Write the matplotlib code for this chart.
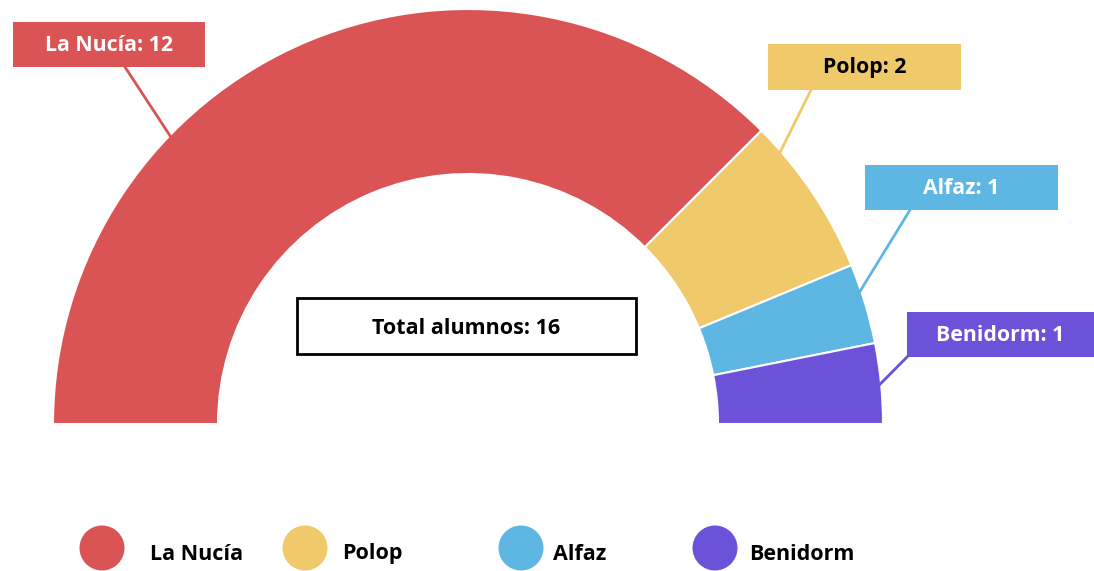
import matplotlib
matplotlib.use("Agg")
import matplotlib.pyplot as plt
from matplotlib.patches import Wedge, Rectangle, Circle
import numpy as np

plt.rcParams['font.family'] = ['Open Sans', 'DejaVu Sans']

# datos
municipios = ['La Nucía', 'Polop', 'Alfaz', 'Benidorm']
alumnos = [12, 2, 1, 1]
colores = ['#DB5455', '#F0C96A', '#5EB7E3', '#6C52D9']
color_texto = ['white', 'black', 'white', 'white']
total = sum(alumnos)

W, H = 1094, 571
fig = plt.figure(figsize=(W / 100, H / 100), dpi=100)
ax = fig.add_axes([0, 0, 1, 1])
ax.set_xlim(0, W)
ax.set_ylim(0, H)
ax.axis('off')

def py(y):  # coordenada vertical desde arriba
    return H - y

# semi-donut
cx, cy = 468, py(424)
R, r = 415, 250
angulos = 180 - np.cumsum([0] + alumnos) / total * 180
for i in range(len(alumnos)):
    ax.add_patch(Wedge((cx, cy), R, angulos[i + 1], angulos[i], width=R - r,
                       facecolor=colores[i], edgecolor='white', linewidth=1.5))

# etiquetas con linea guia: caja (x0, y0, ancho, alto), angulo de anclaje, extremo de la linea en la caja
cajas = [(13, 22, 192, 45), (768, 44, 193, 46), (865, 165, 193, 45), (907, 312, 187, 45)]
anclas = [136, 41, 18.6, 5.4]
salidas = [(125, 67), (811, 90), (910, 210), (907, 357)]
for i, m in enumerate(municipios):
    x0, y0, w, h = cajas[i]
    a = np.radians(anclas[i])
    ex, ey = cx + (R - 2) * np.cos(a), cy + (R - 2) * np.sin(a)
    sx, sy = salidas[i]
    ax.plot([sx, ex], [py(sy), ey], color=colores[i], lw=2, zorder=1)
    ax.add_patch(Rectangle((x0, py(y0 + h)), w, h, facecolor=colores[i], edgecolor='none', zorder=3))
    ax.text(x0 + w / 2, py(y0 + h / 2 + 1), f'{m}: {alumnos[i]}', ha='center', va='center',
            fontsize=15.3, fontweight='bold', color=color_texto[i], zorder=4)

# total
ax.add_patch(Rectangle((297, py(354)), 339, 56, facecolor='white', edgecolor='black', lw=2, zorder=3))
ax.text(466, py(328), f'Total alumnos: {total}', ha='center', va='center',
        fontsize=15.5, fontweight='bold', color='black', zorder=4)

# leyenda
leyenda_x = [102, 305, 521, 715]
texto_x = [150, 342, 553, 749]
for i, m in enumerate(municipios):
    ax.add_patch(Circle((leyenda_x[i], py(548)), 22.5, facecolor=colores[i], edgecolor='none'))
    ax.text(texto_x[i], py(554), m, ha='left', va='center', fontsize=15.5,
            fontweight='bold', color='black')

fig.savefig('out.png', dpi=100)
